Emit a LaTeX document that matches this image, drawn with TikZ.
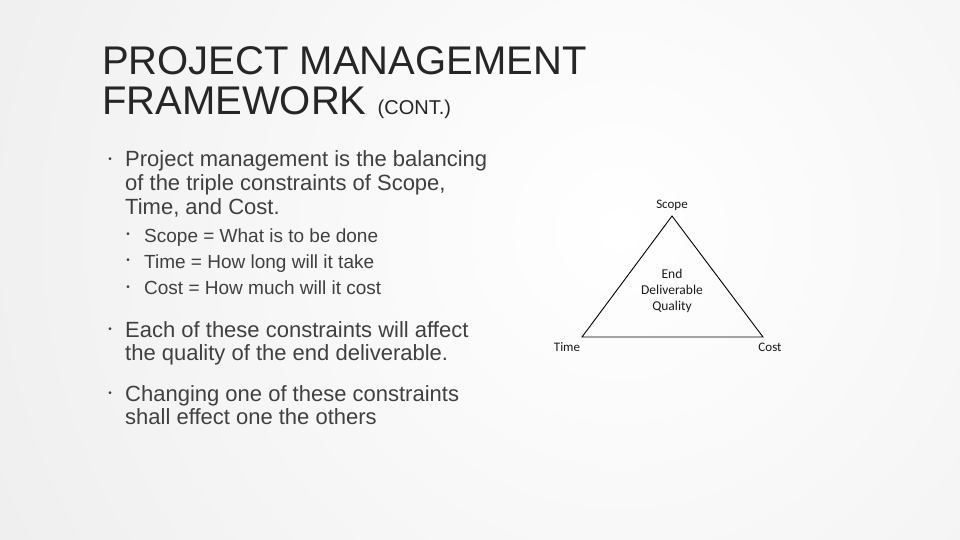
\documentclass[tikz,border=0pt]{standalone}
\usepackage{fontspec}
\setmainfont{Liberation Sans}
\newfontfamily\diagfont{Carlito}
\definecolor{pmTitle}{HTML}{262626}
\definecolor{pmText}{HTML}{404040}
\definecolor{pmEdge}{HTML}{DCDCDC}
\definecolor{pmInk}{HTML}{1A1A1A}
\usetikzlibrary{calc,positioning}

\tikzset{
  bodytext/.style={anchor=base west, inner sep=0pt, text=pmText,
    font=\fontsize{22}{24}\selectfont},
  subtext/.style={anchor=base west, inner sep=0pt, text=pmText,
    font=\fontsize{19}{21}\selectfont},
  dot/.style={inner sep=0pt, text=pmText, font=\fontsize{10}{10}\selectfont},
  corner/.style={inner sep=0pt, text=pmInk, font=\diagfont\fontsize{13}{15}\selectfont},
}

\begin{document}
\begin{tikzpicture}[x=1pt, y=-1pt]
  % slide background
  \useasboundingbox (0,0) rectangle (960,540);
  \clip (0,0) rectangle (960,540);
  \shade[inner color=white, outer color=pmEdge] (620,230) circle (1500);

  % title
  \node[anchor=base west, inner sep=0pt, text=pmTitle, font=\fontsize{40}{40}\selectfont]
    (title1) at (102,75) {PROJECT MANAGEMENT};
  \node[anchor=base west, inner sep=0pt, text=pmTitle, font=\fontsize{40}{40}\selectfont]
    (title2) at (102,115) {FRAMEWORK {\fontsize{20}{20}\selectfont(CONT.)}};

  % bullets
  \node[dot] (b1) at (110,160.5) {•};
  \node[bodytext] (t1) at (125,167) {Project management is the balancing};
  \node[bodytext] (t1b) at (125,190.5) {of the triple constraints of Scope,};
  \node[bodytext] (t1c) at (125,214) {Time, and Cost.};

  \node[dot] (s1) at (128,235.5) {•};
  \node[subtext] (u1) at (144,242) {Scope = What is to be done};
  \node[dot] (s2) at (128,261.5) {•};
  \node[subtext] (u2) at (144,268) {Time = How long will it take};
  \node[dot] (s3) at (128,288) {•};
  \node[subtext] (u3) at (144,294.5) {Cost = How much will it cost};

  \node[dot] (b2) at (110,330.5) {•};
  \node[bodytext] (t2) at (125,337) {Each of these constraints will affect};
  \node[bodytext] (t2b) at (125,360.5) {the quality of the end deliverable.};

  \node[dot] (b3) at (110,394.5) {•};
  \node[bodytext] (t3) at (125,401) {Changing one of these constraints};
  \node[bodytext] (t3b) at (125,424.5) {shall effect one the others};

  % triple constraint triangle
  \coordinate (top) at (672,216);
  \coordinate (left) at (582,337);
  \coordinate (right) at (763,337);
  \draw[black, line width=0.9pt, line join=miter] (top) -- (left) -- (right) -- cycle;
  \node[corner] (scope) at (672,205) {Scope};
  \node[corner] (time) at (567,347) {Time};
  \node[corner] (cost) at (770,347) {Cost};
  \node[corner, align=center, font=\diagfont\fontsize{13.5}{16}\selectfont] (quality) at (672,291) {End\\Deliverable\\Quality};
\end{tikzpicture}
\end{document}
